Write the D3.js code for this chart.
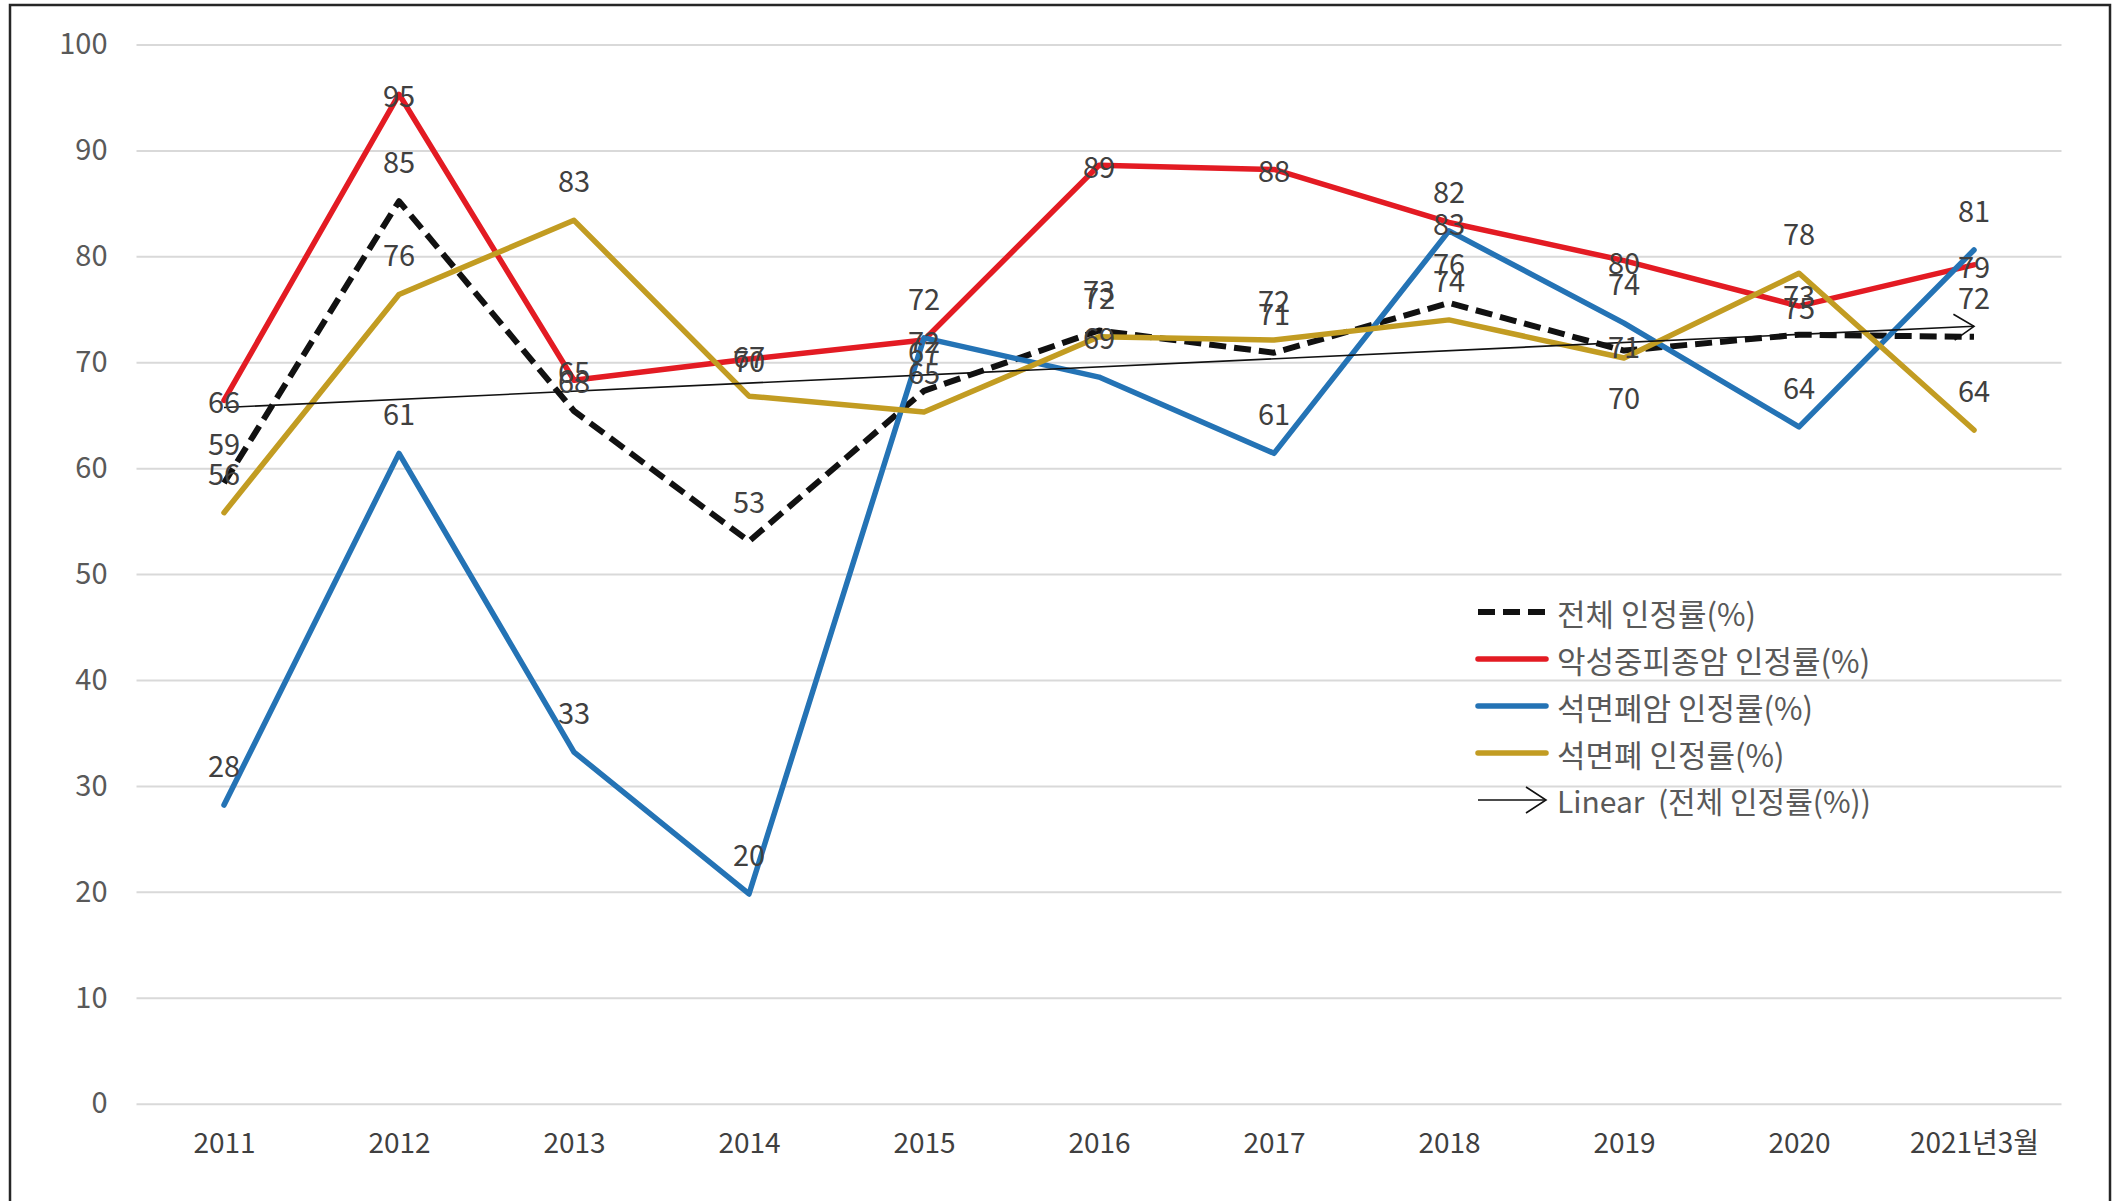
<!DOCTYPE html>
<html>
<head>
<meta charset="utf-8">
<script src="https://cdn.jsdelivr.net/npm/d3@7"></script>
<style>
  body { margin: 0; background: #fff; }
  text { font-family: "Noto Sans CJK KR", "Noto Sans", sans-serif; }
</style>
</head>
<body>
<script>
const years = ["2011", "2012", "2013", "2014", "2015", "2016", "2017", "2018", "2019", "2020", "2021년3월"];
const total = [58.6, 85.2, 65.4, 53.1, 67.3, 73.0, 70.9, 75.6, 71.1, 72.6, 72.4];
const meso = [66.4, 95.3, 68.3, 70.3, 72.1, 88.6, 88.2, 83.2, 79.6, 75.3, 79.2];
const lungCancer = [28.2, 61.4, 33.2, 19.8, 72.3, 68.6, 61.4, 82.4, 73.7, 63.9, 80.6];
const asbestosis = [55.8, 76.4, 83.4, 66.8, 65.3, 72.4, 72.1, 74.0, 70.4, 78.4, 63.6];
const yTicks = [0, 10, 20, 30, 40, 50, 60, 70, 80, 90, 100];
const seriesNames = ["전체 인정률(%)", "악성중피종암 인정률(%)", "석면폐암 인정률(%)", "석면폐 인정률(%)"];
const trendName = "Linear  (전체 인정률(%))";

const W = 2113, H = 1201;
const plotLeft = 136.5, plotRight = 2061.5, plotTop = 44.5, plotBottom = 1103.7;

const svg = d3.select("body").append("svg")
  .attr("width", W)
  .attr("height", H);

// arrow head for the trend line
svg.append("defs").append("marker")
  .attr("id", "arrow")
  .attr("markerUnits", "userSpaceOnUse")
  .attr("viewBox", "-22 -15 24 30")
  .attr("markerWidth", 24)
  .attr("markerHeight", 30)
  .attr("refX", 0)
  .attr("refY", 0)
  .attr("orient", "auto")
  .append("path")
  .attr("d", "M-20,-13L0,0L-20,13")
  .attr("fill", "none")
  .attr("stroke", "#111")
  .attr("stroke-width", 1.6);

// outer frame
svg.append("rect")
  .attr("x", 10).attr("y", 5)
  .attr("width", 2100).attr("height", 1210)
  .attr("fill", "none")
  .attr("stroke", "#262626")
  .attr("stroke-width", 2.5);

const x = d3.scalePoint().domain(years).range([plotLeft, plotRight]).padding(0.5);
const y = d3.scaleLinear().domain([0, 100]).range([plotBottom, plotTop]);

// y axis + gridlines
const yAxis = svg.append("g")
  .attr("transform", `translate(${plotLeft},0)`)
  .call(d3.axisLeft(y).tickValues(yTicks).tickSize(-(plotRight - plotLeft)).tickPadding(29));
yAxis.select(".domain").remove();
yAxis.selectAll(".tick line").attr("stroke", "#d9d9d9").attr("stroke-width", 2);
yAxis.selectAll(".tick text")
  .attr("fill", "#595959")
  .style("font-size", "29px");

// x axis labels
const xAxis = svg.append("g")
  .attr("transform", `translate(0,${plotBottom})`)
  .call(d3.axisBottom(x).tickSize(0).tickPadding(29));
xAxis.select(".domain").remove();
xAxis.selectAll(".tick text")
  .attr("fill", "#404040")
  .style("font-size", "28px");

const series = [
  { name: seriesNames[0], values: total, color: "#111", width: 6, dash: "17,8", label: "above" },
  { name: seriesNames[1], values: meso, color: "#e31b23", width: 5.5, dash: null, label: "center" },
  { name: seriesNames[2], values: lungCancer, color: "#2473b5", width: 5.5, dash: null, label: "above" },
  { name: seriesNames[3], values: asbestosis, color: "#c29c22", width: 5.5, dash: null, label: "above" }
];

// a couple of labels that Excel moved off their default spot
const labelShift = { "0|2019": -6, "3|2019": 38 };

const line = d3.line()
  .x((d, i) => x(years[i]))
  .y(d => y(d));

series.forEach(s => {
  svg.append("path")
    .datum(s.values)
    .attr("d", line)
    .attr("fill", "none")
    .attr("stroke", s.color)
    .attr("stroke-width", s.width)
    .attr("stroke-linejoin", "round")
    .attr("stroke-linecap", s.dash ? "butt" : "round")
    .attr("stroke-dasharray", s.dash);
});

// linear trend of the overall rate (least squares)
const n = total.length;
const mx = d3.mean(d3.range(n));
const my = d3.mean(total);
const slope = d3.sum(total, (v, i) => (i - mx) * (v - my)) / d3.sum(d3.range(n), i => (i - mx) * (i - mx));
const intercept = my - slope * mx;
const trend = [intercept, intercept + slope * (n - 1)];

svg.append("line")
  .attr("x1", x(years[0])).attr("y1", y(trend[0]))
  .attr("x2", x(years[n - 1])).attr("y2", y(trend[1]))
  .attr("stroke", "#111")
  .attr("stroke-width", 1.6)
  .attr("marker-end", "url(#arrow)");

// data labels
series.forEach((s, si) => {
  svg.append("g")
    .selectAll("text")
    .data(s.values)
    .join("text")
    .attr("x", (d, i) => x(years[i]))
    .attr("y", (d, i) => {
      const key = si + "|" + years[i];
      if (key in labelShift) return y(d) + labelShift[key];
      return s.label === "center" ? y(d) : y(d) - 41;
    })
    .attr("text-anchor", "middle")
    .attr("dominant-baseline", "central")
    .attr("fill", "#404040")
    .style("font-size", "29px")
    .text(d => Math.round(d));
});

// legend
const legend = svg.append("g").attr("transform", "translate(1478,612)");
const rowStep = 47;

series.forEach((s, i) => {
  const row = legend.append("g").attr("transform", `translate(0,${i * rowStep})`);
  row.append("line")
    .attr("x1", 0).attr("x2", 68)
    .attr("stroke", s.color)
    .attr("stroke-width", s.width)
    .attr("stroke-linecap", s.dash ? "butt" : "round")
    .attr("stroke-dasharray", s.dash);
  row.append("text")
    .attr("x", 79)
    .attr("dominant-baseline", "central")
    .attr("fill", "#595959")
    .style("font-size", "31px")
    .text(s.name);
});

const trendRow = legend.append("g").attr("transform", `translate(0,${4 * rowStep})`);
trendRow.append("line")
  .attr("x1", 0).attr("x2", 68)
  .attr("stroke", "#111")
  .attr("stroke-width", 1.6)
  .attr("marker-end", "url(#arrow)");
trendRow.append("text")
  .attr("x", 79)
  .attr("dominant-baseline", "central")
  .attr("fill", "#595959")
  .style("font-size", "30px")
  .style("white-space", "pre")
  .text(trendName);
</script>
</body>
</html>
